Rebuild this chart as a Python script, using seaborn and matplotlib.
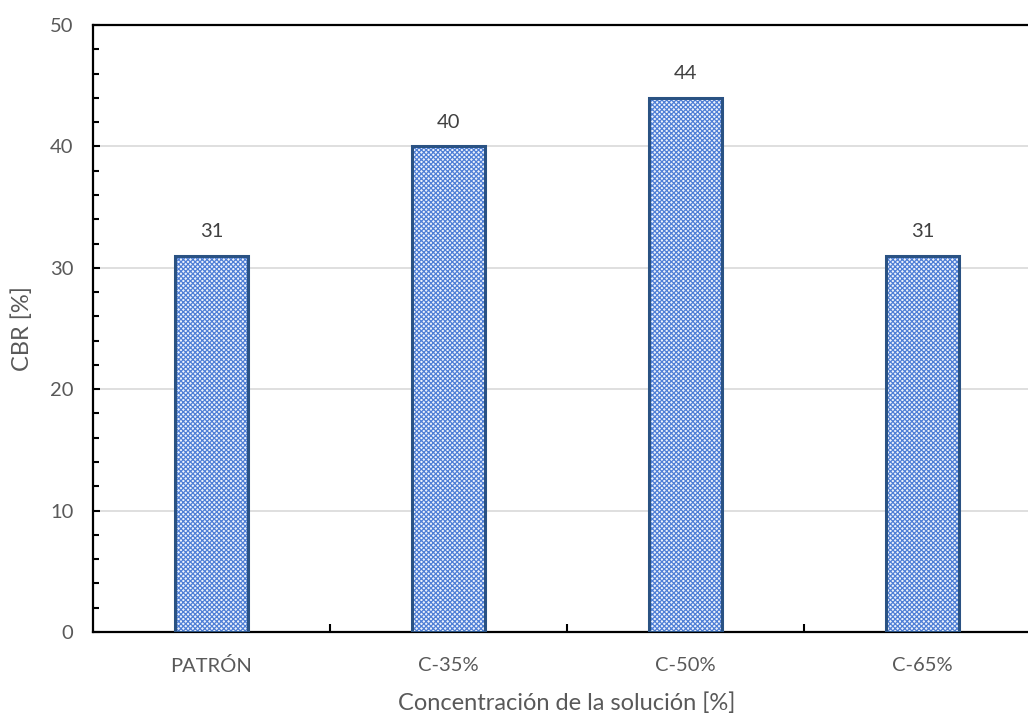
import matplotlib
matplotlib.use("Agg")
import matplotlib.pyplot as plt
import seaborn as sns
import pandas as pd
from matplotlib.ticker import MultipleLocator, FixedLocator

categories = ["PATRÓN", "C-35%", "C-50%", "C-65%"]
cbr_values = [31, 40, 44, 31]

df = pd.DataFrame({"muestra": categories, "cbr": cbr_values})

sns.set_theme(style="white")
plt.rcParams["font.family"] = ["Lato", "DejaVu Sans"]
plt.rcParams["hatch.linewidth"] = 0.9

TEXT = "#595959"
HATCH_BLUE = "#4F7FD6"
EDGE_BLUE = "#2A5283"

fig = plt.figure(figsize=(10.28, 7.13), dpi=100)
# the plot area runs a little past the right edge of the figure
ax = fig.add_axes([0.0905, 0.1136, 0.9222, 0.8513])

# checkered fill: hatch drawn in the bar's (invisible) edge colour
sns.barplot(data=df, x="muestra", y="cbr", ax=ax, color="#EEF3FC",
            width=0.31, edgecolor=HATCH_BLUE, linewidth=0, hatch="xxxxxxx",
            zorder=3)
for patch in ax.patches:
    patch.set_facecolor("#EEF3FC")
    patch.set_edgecolor(HATCH_BLUE)
    patch.set_linewidth(0)

# dark outline on top
sns.barplot(data=df, x="muestra", y="cbr", ax=ax, fill=False,
            width=0.31, edgecolor=EDGE_BLUE, linewidth=2.2, zorder=4)

for i, v in enumerate(cbr_values):
    ax.text(i, v + 1.55, f"{v}", ha="center", va="baseline",
            fontsize=14.5, color="#404040")

ax.set_ylim(0, 50)
ax.set_xlim(-0.5, 3.5)
ax.yaxis.set_major_locator(MultipleLocator(10))
ax.yaxis.set_minor_locator(MultipleLocator(2))
ax.xaxis.set_minor_locator(FixedLocator([0.5, 1.5, 2.5]))
ax.grid(axis="y", which="major", color="#D9D9D9", linewidth=1.2, zorder=0)
ax.set_axisbelow(True)

ax.tick_params(axis="both", which="both", direction="in", color="black",
               width=1.5, labelsize=14.5, labelcolor=TEXT,
               left=True, bottom=True, right=False, top=False)
ax.tick_params(axis="y", which="major", length=5, pad=14)
ax.tick_params(axis="y", which="minor", length=4.5)
ax.tick_params(axis="x", which="major", length=4, pad=18)
ax.tick_params(axis="x", which="minor", length=6)

for side in ["left", "bottom", "top", "right"]:
    ax.spines[side].set_visible(True)
    ax.spines[side].set_color("black")
    ax.spines[side].set_linewidth(1.6)

ax.set_xlabel("Concentración de la solución [%]", fontsize=17, color=TEXT,
              va="baseline")
ax.xaxis.set_label_coords(0.5, -0.1285)
ax.set_ylabel("CBR [%]", fontsize=17, color=TEXT)
ax.yaxis.set_label_coords(-0.063, 0.5)

fig.savefig("out.png", dpi=100)
